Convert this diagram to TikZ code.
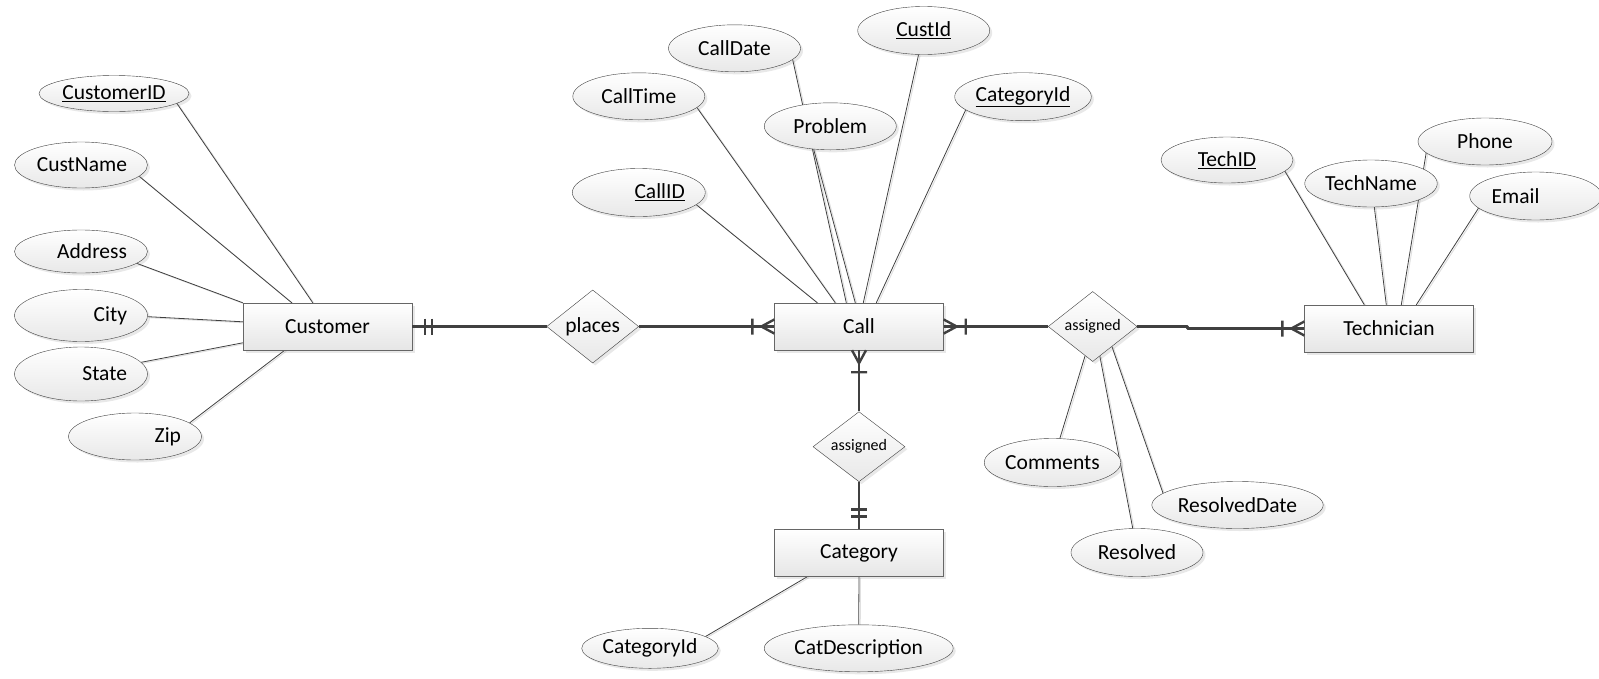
\documentclass[tikz,border=0pt]{standalone}
\usepackage{fontspec}
\setmainfont{Carlito}
\usetikzlibrary{shapes.geometric,shadows,calc,backgrounds}

\newcommand\namefont{\fontsize{21.5}{25}\selectfont}
\newcommand\relfont{\fontsize{16}{19}\selectfont}

\tikzset{
  softshadow/.style={drop shadow={opacity=0.18, shadow xshift=2.5pt, shadow yshift=-2.5pt}},
  entity/.style={draw=black!60, top color=white, bottom color=black!10,
    minimum width=169pt, minimum height=47pt, font=\namefont, softshadow},
  attr/.style={ellipse, draw=black!75, top color=white, bottom color=black!9,
    inner sep=1pt, minimum width=132pt, minimum height=47pt, font=\namefont, softshadow},
  rattr/.style={attr, text width=92pt, align=right},
  lattr/.style={attr, text width=88pt, align=left},
  rel/.style={diamond, draw=black!75, top color=white, bottom color=black!9,
    inner sep=0pt, minimum width=92pt, minimum height=70pt, softshadow},
  link/.style={draw=black!75, line width=0.8pt,
    preaction={draw=black!12, line width=1pt, transform canvas={xshift=1.5pt, yshift=-1pt}}},
  conn/.style={draw=black!75, line width=2.4pt, line join=round},
  pics/onlyone/.style={code={
    \draw[conn] (13,-8) -- (13,8) (20,-8) -- (20,8);
  }},
  pics/oneormany/.style={code={
    \draw[conn] (0,-7) -- (13,0) -- (0,7) (22,-8) -- (22,8);
  }},
}

\begin{document}
\begin{tikzpicture}[x=1pt, y=-1pt]
\useasboundingbox (0,0) rectangle (1599,678);

% entities and relationships
\node[entity] (customer) at (327.5,326.5) {Customer};
\node[rel, font=\namefont] (places) at (592.7,326.5) {places};
\node[entity] (call) at (859,326.5) {Call};
\node[rel, font=\relfont, minimum width=89pt, minimum height=68pt] (assigntech) at (1092.7,326.5) {assigned};
\node[entity] (technician) at (1389,328.5) {Technician};
\node[rel, font=\relfont, minimum height=67pt] (assigncat) at (859,446.7) {assigned};
\node[entity] (category) at (859,553) {Category};

% customer attributes
\node[attr, minimum width=150pt, minimum height=36pt] (customerid) at (114,93.5) {\underline{CustomerID}};
\node[rattr, minimum height=46pt] (custname) at (81,165) {CustName};
\node[rattr, minimum height=43pt] (address) at (81,251.5) {Address};
\node[rattr, minimum height=52pt] (city) at (81,315.5) {City};
\node[rattr, minimum height=54pt] (state) at (81,374) {State};
\node[rattr] (zip) at (135,436.5) {Zip};

% call attributes
\node[rattr, minimum height=48pt] (callid) at (638.8,192.5) {\underline{CallID}};
\node[attr] (calltime) at (638.8,96.3) {CallTime};
\node[attr] (calldate) at (734.5,48.3) {CallDate};
\node[attr] (problem) at (830.3,126.3) {Problem};
\node[attr, minimum height=48pt] (custid) at (923.7,30.5) {\underline{CustId}};
\node[attr, minimum height=48pt] (catkey) at (1023,96.7) {\underline{CategoryId}};

% technician attributes
\node[attr, minimum height=46pt] (techid) at (1227,160) {\underline{TechID}};
\node[attr] (techname) at (1371,183.5) {TechName};
\node[attr, minimum width=134pt] (phone) at (1485,141.5) {Phone};
\node[lattr, minimum height=48pt] (email) at (1535.7,196) {Email};

% assignment attributes
\node[attr, minimum height=48pt] (comments) at (1052.5,462.5) {Comments};
\node[attr, minimum height=48pt] (resolved) at (1137,552.5) {Resolved};
\node[attr, minimum width=165pt] (resolveddate) at (1237.5,505) {ResolvedDate};

% category attributes
\node[attr, minimum height=40pt] (catid) at (650,648.3) {CategoryId};
\node[attr, minimum width=189pt] (catdesc) at (858.7,648.3) {CatDescription};

\begin{scope}[on background layer]
\draw[link] (customerid.-9) -- ($(customer.north west)+(70,0)$);
\draw[link] (custname.-11) -- ($(customer.north west)+(49,0)$);
\draw[link] (address.-12) -- (customer.north west);
\draw[link] (city.-1) -- ($(customer.north west)+(0,19)$);
\draw[link] (state.11) -- ($(customer.north west)+(0,40)$);
\draw[link] (zip.14) -- ($(customer.south west)+(42,0)$);

\draw[link] (callid.-12) -- ($(call.north west)+(43,0)$);
\draw[link] (calltime.-11) -- ($(call.north west)+(61,0)$);
\draw[link] (calldate.-11) -- ($(call.north west)+(72,0)$);
\draw[link] (problem.234) -- ($(call.north west)+(81,0)$);
\draw[link] (custid.258) -- ($(call.north west)+(89,0)$);
\draw[link] (catkey.193) -- ($(call.north west)+(102,0)$);

\draw[link] (techid.-11) -- ($(technician.north west)+(60,0)$);
\draw[link] (techname.-82) -- ($(technician.north west)+(82,0)$);
\draw[link] (phone.191) -- ($(technician.north west)+(97,0)$);
\draw[link] (email.192) -- ($(technician.north west)+(112,0)$);

\draw[link] (comments.73) -- ($(assigntech.south)!0.17!(assigntech.west)$);
\draw[link] (resolved.100) -- ($(assigntech.south)!0.16!(assigntech.east)$);
\draw[link] (resolveddate.171) -- ($(assigntech.south)!0.43!(assigntech.east)$);

\draw[link] (catid.12) -- ($(category.south west)+(33,0)$);
\draw[link] (catdesc.north) -- (category.south);
\end{scope}

% relationship lines
\draw[conn] (customer) -- (places);
\draw[conn] (places) -- (call);
\draw[conn] (call) -- (assigntech);
\draw[conn] (assigntech.east) -- ++(50,0) |- (technician.west);
\draw[conn] (call) -- (assigncat);
\draw[conn] (assigncat) -- (category);

\pic at (customer.east) {onlyone};
\pic[rotate=180] at (call.west) {oneormany};
\pic at (call.east) {oneormany};
\pic[rotate=180] at (technician.west) {oneormany};
\pic[rotate=-90] at (call.south) {oneormany};
\pic[rotate=90] at (category.north) {onlyone};
\end{tikzpicture}
\end{document}
